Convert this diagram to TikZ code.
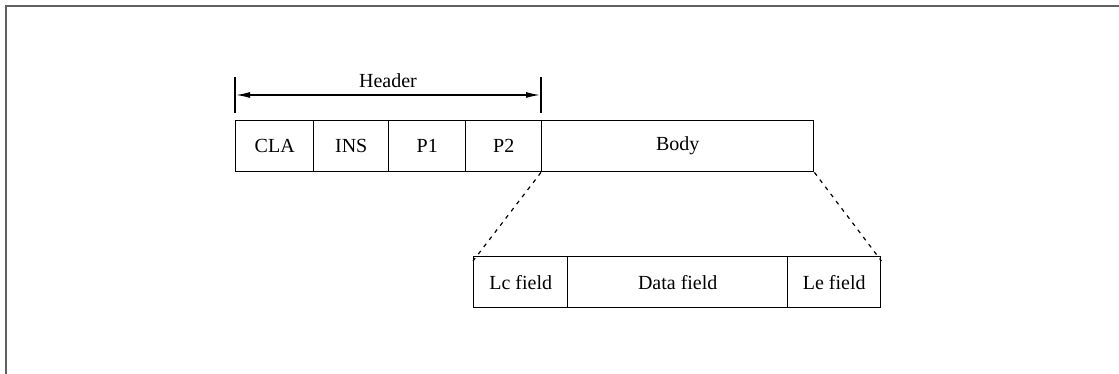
\documentclass[tikz,border=0pt]{standalone}
\usepackage{fontspec}
\setmainfont{Liberation Serif}
\usetikzlibrary{arrows.meta}
\begin{document}
\begin{tikzpicture}[x=1pt,y=-1pt,
  fld/.style={draw,line width=1.4pt,minimum height=51pt,inner sep=0pt,anchor=north west,font=\fontsize{20}{23}\selectfont},
  frame/.style={draw=black!62,line width=2pt},
  tick/.style={line width=1.5pt},
  dim/.style={line width=1.3pt,{Latex[length=14pt,width=6pt]}-{Latex[length=14pt,width=6pt]}},
  zoomline/.style={line width=1.2pt,dash pattern=on 4pt off 5pt}]
\useasboundingbox (0,0) rectangle (1119,374);
\draw[frame] (1119,6) -- (6,6) -- (6,374);
% top row
\node[fld,minimum width=78pt] (cla) at (235,120) {CLA};
\node[fld,minimum width=75pt] (ins) at (313,120) {INS};
\node[fld,minimum width=77pt] (p1) at (388,120) {P1};
\node[fld,minimum width=76pt] (p2) at (465,120) {P2};
\node[fld,minimum width=272pt] (body) at (541,120) {Body};
% header dimension
\coordinate (ta) at (235,77);
\coordinate (tb) at (235,113);
\coordinate (tc) at (541,77);
\coordinate (td) at (541,113);
\draw[tick] (ta) -- (tb);
\draw[tick] (tc) -- (td);
\coordinate (ha) at (236,95);
\coordinate (hb) at (540,95);
\draw[dim] (ha) -- node[above=3pt,font=\fontsize{20}{23}\selectfont] (hdr) {Header} (hb);
% bottom row
\node[fld,minimum width=94pt] (lc) at (473,256) {Lc field};
\node[fld,minimum width=220pt] (data) at (567,256) {Data field};
\node[fld,minimum width=93pt] (le) at (787,256) {Le field};
% zoom lines
\draw[zoomline] (body.south west) -- ([yshift=-5pt]lc.north west);
\draw[zoomline] (body.south east) -- ([yshift=-5pt]le.north east);
\end{tikzpicture}
\end{document}
